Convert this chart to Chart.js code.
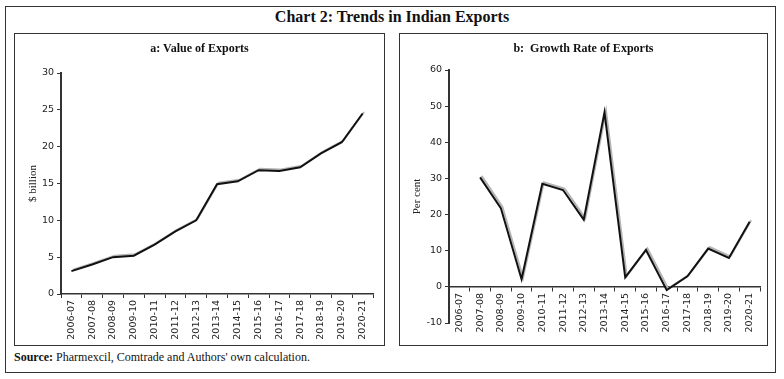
<!DOCTYPE html>
<html>
<head>
<meta charset="utf-8">
<script src="https://cdn.jsdelivr.net/npm/chart.js@4"></script>
<style>
  body { margin: 0; background: #fff; width: 784px; height: 379px; position: relative; overflow: hidden; }
  .outer { position: absolute; left: 5px; top: 6px; width: 771px; height: 367px; border: 1px solid #333; box-sizing: border-box; }
  .heading { position: absolute; left: 0; top: 8px; width: 784px; text-align: center; font-family: "Liberation Serif", serif; font-weight: bold; font-size: 16px; color: #111; }
  .panel { position: absolute; top: 33px; height: 313px; border: 1px solid #333; box-sizing: border-box; }
  .panel canvas { position: absolute; left: 0; top: 0; }
  .ptitle { position: absolute; left: 0; top: 7px; width: 100%; text-align: center; font-family: "Liberation Serif", serif; font-weight: bold; font-size: 12px; color: #111; }
  .source { position: absolute; left: 14px; top: 350px; font-family: "Liberation Serif", serif; font-size: 12px; color: #111; }
</style>
</head>
<body>
<div class="outer"></div>
<div class="heading">Chart 2: Trends in Indian Exports</div>

<div class="panel" style="left:14px; width:371px;">
  <canvas id="valueChart" width="369" height="311"></canvas>
  <div class="ptitle">a: Value of Exports</div>
</div>
<div class="panel" style="left:399px; width:369px;">
  <canvas id="growthChart" width="367" height="311"></canvas>
  <div class="ptitle">b:&nbsp; Growth Rate of Exports</div>
</div>

<div class="source"><b>Source:</b> Pharmexcil, Comtrade and Authors' own calculation.</div>

<script>
const years = ['2006-07', '2007-08', '2008-09', '2009-10', '2010-11', '2011-12', '2012-13',
  '2013-14', '2014-15', '2015-16', '2016-17', '2017-18', '2018-19', '2019-20', '2020-21'];

// $ billion
const exportValue = [3.1, 4.0, 5.0, 5.2, 6.7, 8.5, 10.0, 14.9, 15.3, 16.8, 16.7, 17.2, 19.1, 20.6, 24.5];

// per cent
const exportGrowth = [null, 30.3, 21.8, 2.1, 28.5, 26.8, 18.6, 48.3, 2.6, 10.2, -0.9, 2.9, 10.6, 8.0, 18.0];

const valueTicks = [0, 5, 10, 15, 20, 25, 30];
const growthTicks = [-10, 0, 10, 20, 30, 40, 50, 60];

const tickFont = { family: 'DejaVu Sans', size: 9.5 };
const axisColor = '#333';

// light grey shadow behind the line, like the original
const shadowPlugin = {
  id: 'lineShadow',
  beforeDatasetsDraw(chart) {
    const ctx = chart.ctx;
    ctx.save();
    ctx.shadowColor = '#b5b5b5';
    ctx.shadowOffsetX = 1.5;
    ctx.shadowOffsetY = -1.5;
    ctx.shadowBlur = 0;
  },
  afterDatasetsDraw(chart) {
    chart.ctx.restore();
  }
};

const makeChart = (canvas, values, ticks, yTitle, opts) => {
  return new Chart(canvas, {
    type: 'line',
    data: {
      labels: years,
      datasets: [{
        data: values,
        borderColor: '#111',
        borderWidth: 2,
        pointRadius: 0,
        tension: 0,
        spanGaps: false
      }]
    },
    options: {
      responsive: false,
      animation: false,
      layout: { padding: opts.padding },
      plugins: { legend: { display: false }, tooltip: { enabled: false } },
      scales: {
        x: {
          position: opts.xPosition,
          offset: true,
          grid: { offset: true, drawOnChartArea: false, drawTicks: true, tickLength: 4, color: axisColor },
          border: { color: axisColor, width: 1.5 },
          ticks: { font: tickFont, color: '#222', minRotation: 90, maxRotation: 90, autoSkip: false, padding: 2 },
          afterFit: s => { s.height = opts.xHeight; }
        },
        y: {
          min: ticks[0],
          max: ticks[ticks.length - 1],
          afterBuildTicks: s => { s.ticks = ticks.map(v => ({ value: v })); },
          grid: { drawOnChartArea: false, drawTicks: true, tickLength: 4, color: axisColor },
          border: { color: axisColor, width: 2 },
          ticks: { font: tickFont, color: '#222', padding: 3 },
          title: {
            display: true,
            text: yTitle,
            font: { family: 'Liberation Serif', size: 11 },
            color: '#222',
            padding: { top: opts.titlePad, bottom: 0 }
          },
          afterFit: s => { s.width = opts.yWidth; }
        }
      }
    },
    plugins: [shadowPlugin]
  });
};

makeChart(document.getElementById('valueChart'), exportValue, valueTicks, '$ billion', {
  padding: { top: 39, right: 11, left: 0, bottom: 6 },
  xPosition: 'bottom',
  xHeight: 45,
  yWidth: 46,
  titlePad: 12
});

makeChart(document.getElementById('growthChart'), exportGrowth, growthTicks, 'Per cent', {
  padding: { top: 36, right: 7, left: 0, bottom: 22 },
  xPosition: { y: 0 },
  xHeight: 0,
  yWidth: 49,
  titlePad: 11
});
</script>
</body>
</html>
